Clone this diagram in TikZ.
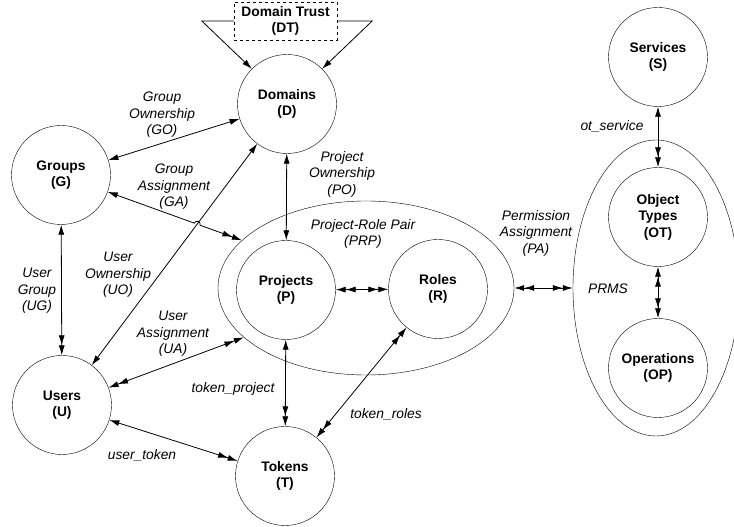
\documentclass[tikz,border=0pt]{standalone}
\usepackage{fontspec}
\setmainfont{Liberation Sans}
\usepackage{tikz}
\usetikzlibrary{shapes.geometric,arrows.meta,calc}

\begin{document}
\begin{tikzpicture}[
    x=1pt, y=1pt,
    >={Latex[length=10pt,width=6pt]},
    entity/.style={circle, draw, minimum size=99pt, inner sep=0pt, align=center, font=\fontsize{13.8}{16.5}\selectfont\bfseries},
    group/.style={ellipse, draw, inner sep=0pt},
    trust/.style={rectangle, draw, dashed, minimum width=103pt, minimum height=38pt, inner ysep=1pt, align=center, font=\fontsize{13.8}{16.5}\selectfont\bfseries},
    lbl/.style={align=center, font=\fontsize{13.8}{16.5}\selectfont\itshape},
    link/.style={line width=0.8pt}
]
\clip (0,0) rectangle (734,527);

% entities
\node[entity] (dom) at (287,423) {Domains\\(D)};
\node[entity] (gr) at (61,352) {Groups\\(G)};
\node[entity] (us) at (62,122) {Users\\(U)};
\node[entity] (tok) at (285,51) {Tokens\\(T)};
\node[entity] (proj) at (286,237) {Projects\\(P)};
\node[entity] (rol) at (438,238) {Roles\\(R)};
\node[entity] (srv) at (658,470) {Services\\(S)};
\node[entity] (ot) at (658,310) {Object\\Types\\(OT)};
\node[entity] (op) at (658,159) {Operations\\(OP)};
\node[trust] (dt) at (285.5,506) {Domain Trust\\(DT)};

% groupings
\node[group, minimum width=296pt, minimum height=174pt] (prp) at (366,239) {};
\node[group, minimum width=166pt, minimum height=296pt] (prms) at (656,239) {};

% labels
\node[lbl] (golbl) at (162,412) {Group\\Ownership\\(GO)};
\node[lbl] (galbl) at (174,340) {Group\\Assignment\\(GA)};
\node[lbl] (uglbl) at (37,236) {User\\Group\\(UG)};
\node[lbl] (uolbl) at (118,252) {User\\Ownership\\(UO)};
\node[lbl] (ualbl) at (173,193) {User\\Assignment\\(UA)};
\node[lbl] (polbl) at (342,353) {Project\\Ownership\\(PO)};
\node[lbl] (prplbl) at (363,293) {Project-Role Pair\\(PRP)};
\node[lbl] (palbl) at (536,294) {Permission\\Assignment\\(PA)};
\node[lbl] (otslbl) at (612,401) {ot\_service};
\node[lbl] (prmslbl) at (608,238) {PRMS};
\node[lbl] (tplbl) at (233,138) {token\_project};
\node[lbl] (utlbl) at (142,72) {user\_token};
\node[lbl] (trlbl) at (386,113) {token\_roles};

% domain trust
\draw[link,->] (dt.west) -- ++(-32,0) -- (dom.135);
\draw[link,->] (dt.east) -- ++(35,0) -- (dom.45);

% relations
\draw[link,<->] (gr) -- (dom);
\coordinate (hop) at (intersection of gr.center--prp.159 and us.center--dom.center);
\draw[link,<->>] (gr) -- ($(hop)!3pt!(gr.center)$) arc[start angle=160, end angle=-20, radius=3pt] -- (prp.159);
\draw[link,<->] (us) -- (dom);
\draw[link,<->>] (gr) -- (us);
\draw[link,<<->>] (us) -- (prp.202);
\draw[link,<->>] (us) -- (tok);
\draw[link,<->] (dom) -- (proj);
\draw[link,<->>] (proj) -- (tok);
\draw[link,<<->>] (tok) -- (rol);
\draw[link,<<->>] (proj) -- (rol);
\draw[link,<<->>] (prp.east) -- (prms.west);
\draw[link,<->>] (srv) -- (ot);
\draw[link,<<->>] (ot) -- (op);

\end{tikzpicture}
\end{document}
